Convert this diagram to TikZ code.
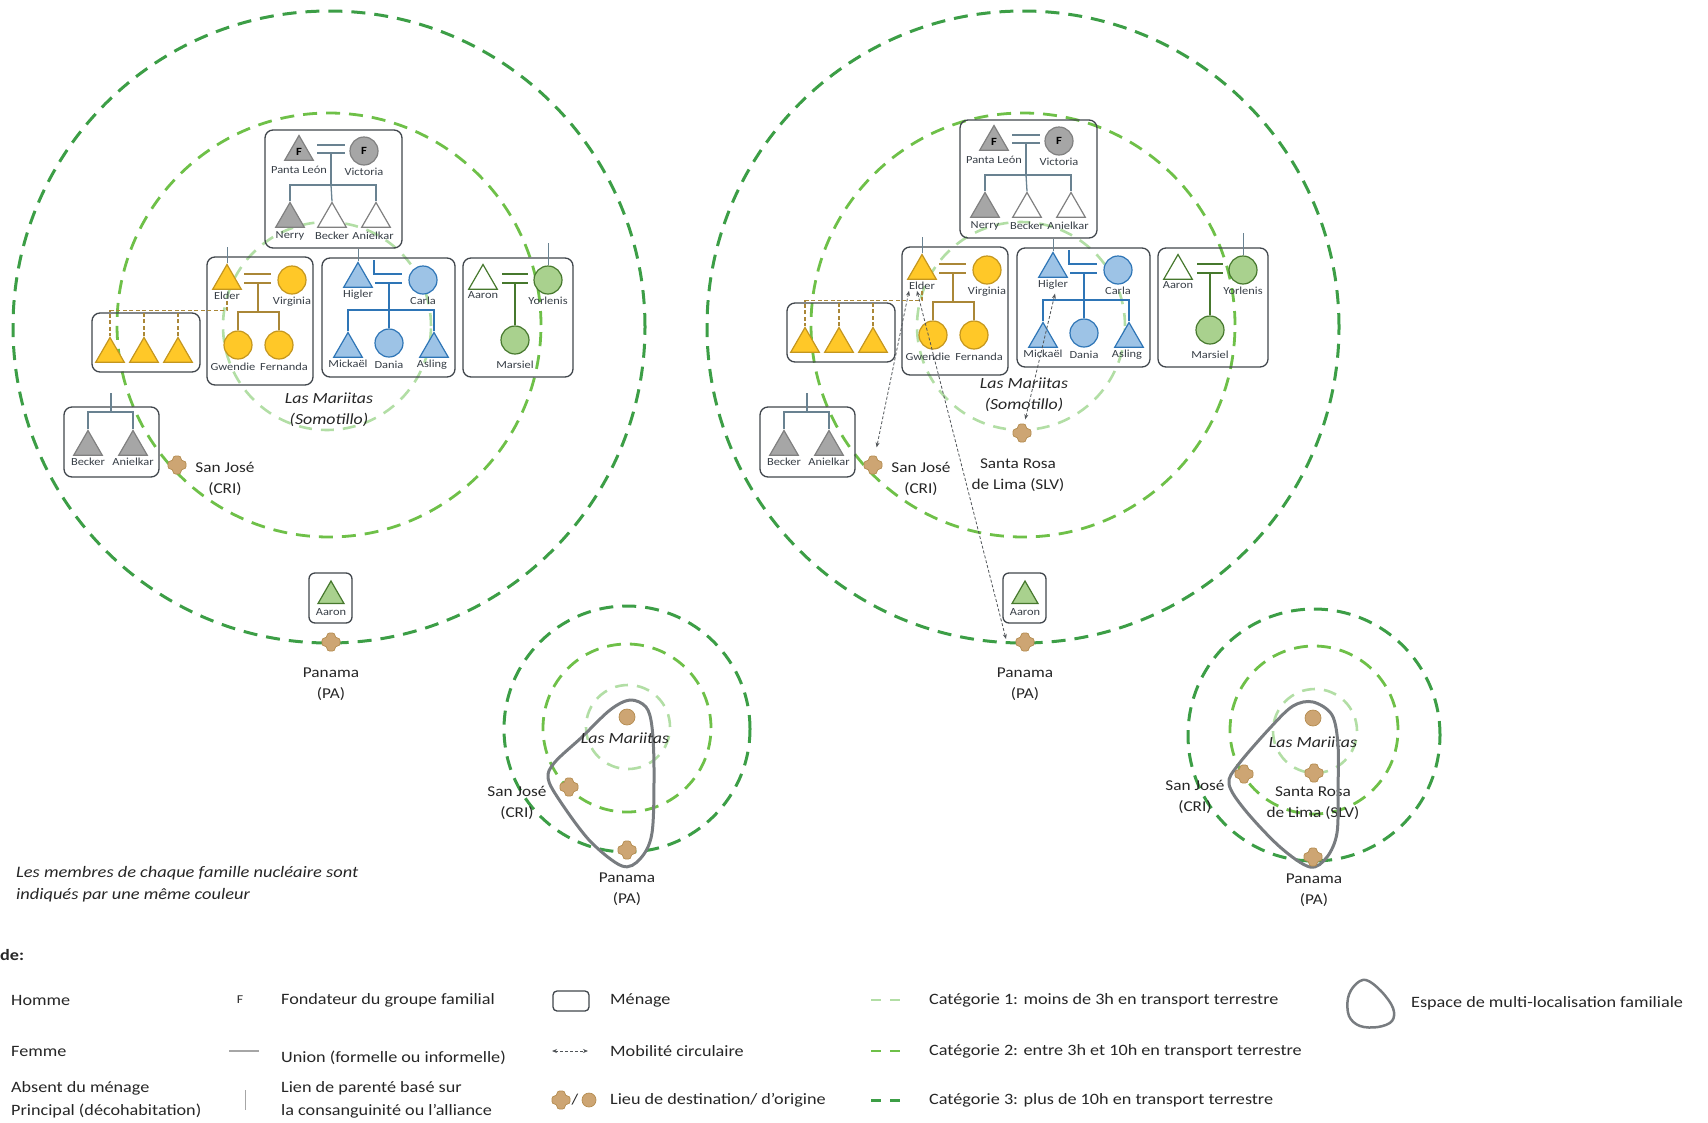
\documentclass[tikz,border=0pt]{standalone}
\usepackage{fontspec}
\setmainfont{Carlito}[FakeStretch=1.15]
\usetikzlibrary{positioning,arrows.meta,shapes.geometric,calc}
\definecolor{catun}{RGB}{178,222,165}
\definecolor{catdeux}{RGB}{110,192,72}
\definecolor{cattrois}{RGB}{60,158,70}
\definecolor{menagegris}{RGB}{64,70,76}
\definecolor{nomgris}{RGB}{55,62,70}
\definecolor{jaune}{RGB}{255,200,40}
\definecolor{jaunefonce}{RGB}{196,150,30}
\definecolor{jaunelien}{RGB}{170,135,55}
\definecolor{bleu}{RGB}{157,195,230}
\definecolor{bleufonce}{RGB}{46,117,182}
\definecolor{vert}{RGB}{169,209,142}
\definecolor{vertfonce}{RGB}{70,120,45}
\definecolor{gris}{RGB}{166,166,166}
\definecolor{grisfonce}{RGB}{128,128,128}
\definecolor{fondlien}{RGB}{105,130,145}
\definecolor{lieufond}{RGB}{205,165,115}
\definecolor{lieubord}{RGB}{180,140,80}
\definecolor{espacegris}{RGB}{120,124,128}
\definecolor{mobgris}{RGB}{80,84,88}
\definecolor{texte}{RGB}{38,38,38}

\begin{document}
\begin{tikzpicture}[x=1pt,y=1pt,
    homme/.style={regular polygon,regular polygon sides=3,minimum size=33pt,
      inner sep=0pt,line width=1.2pt,yshift=-4pt,
      font=\fontsize{11}{11}\selectfont\bfseries},
    femme/.style={circle,minimum size=28pt,inner sep=0pt,line width=1.2pt,
      font=\fontsize{11}{11}\selectfont\bfseries},
    menage/.style={draw=menagegris,rounded corners=8pt,line width=1.3pt,inner sep=0pt},
    nom/.style={font=\fontsize{10.8}{12}\selectfont,text=nomgris,inner sep=1pt},
    lien/.style={line width=1.3pt},
    parente/.style={line width=1pt,draw=fondlien},
    absent/.style={lien,draw=jaunelien,dash pattern=on 4pt off 2.5pt},
    cat1/.style={draw=catun,line width=2.6pt,dash pattern=on 13pt off 9pt},
    cat2/.style={draw=catdeux,line width=2.8pt,dash pattern=on 14pt off 9pt},
    cat3/.style={draw=cattrois,line width=3pt,dash pattern=on 14pt off 9pt},
    mobilite/.style={draw=mobgris,line width=0.8pt,dash pattern=on 3pt off 2pt,
      {Stealth[length=5pt,width=4pt]}-{Stealth[length=5pt,width=4pt]}},
    espace/.style={draw=espacegris,line width=3pt},
    origine/.style={circle,fill=lieufond,draw=lieubord,line width=0.7pt,
      minimum size=16pt,inner sep=0pt},
    lieutexte/.style={font=\fontsize{15}{21}\selectfont,text=texte,align=center},
    ital/.style={font=\fontsize{15.5}{21}\selectfont\itshape,text=texte,align=center},
    legende/.style={font=\fontsize{15.8}{23}\selectfont,text=texte,anchor=west,
      align=left,inner sep=0pt},
    lieu/.pic={\filldraw[fill=lieufond,draw=lieubord,line width=0.7pt,rounded corners=2.5pt]
      (-4,-9) -- (4,-9) -- (4,-4) -- (9,-4) -- (9,4) -- (4,4) -- (4,9)
      -- (-4,9) -- (-4,4) -- (-9,4) -- (-9,-4) -- (-4,-4) -- cycle;}]

\useasboundingbox (0,0) rectangle (1708,-1122);

% les deux groupes familiaux
\foreach \p/\dx/\dy/\bx/\by/\px/\my in {L/0/0/0/0/0/0,R/695/10/696/0/694/5}{
  % zones de distance
  \draw[cat3] (329+\px,-327) circle[radius=316];
  \draw[cat2] (329+\px,-325) circle[radius=212];
  \draw[cat1] (327+\px,-326) circle[radius=104];

  \begin{scope}[shift={(\dx,\dy)}]
    % fondateurs
    \node[menage,minimum width=137pt,minimum height=118pt] (\p-fondateurs) at (333.5,-189) {};
    \node[homme,fill=gris,draw=grisfonce] (\p-pantaleon) at (299,-148) {F};
    \node[femme,fill=gris,draw=grisfonce] (\p-victoria) at (364,-151) {F};
    \node[nom,below=4pt of \p-pantaleon] (\p-pantaleonlbl) {Panta León};
    \node[nom,below=1pt of \p-victoria] (\p-victorialbl) {Victoria};
    \node[homme,fill=gris,draw=grisfonce] (\p-nerry) at (290,-215) {};
    \node[homme,fill=white,draw=grisfonce] (\p-becker) at (332,-215) {};
    \node[homme,fill=white,draw=grisfonce] (\p-anielkar) at (376,-215) {};
    \node[nom,below=3pt of \p-nerry] (\p-nerrylbl) {Nerry};
    \node[nom,below=3pt of \p-becker] (\p-beckerlbl) {Becker};
    \node[nom,below=3pt of \p-anielkar,xshift=-3pt] (\p-anielkarlbl) {Anielkar};
    \coordinate (\p-u0) at (331,-149);
    \draw[lien,draw=fondlien] ([shift={(-14,4)}]\p-u0) -- ++(28,0)
      ([shift={(-14,-4)}]\p-u0) -- ++(28,0);
    \draw[lien,draw=fondlien] ([yshift=-4pt]\p-u0) -- ++(0,-32) coordinate (\p-f0);
    \draw[lien,draw=fondlien] (\p-nerry.north) |- (\p-f0) -| (\p-anielkar.north);
    \draw[lien,draw=fondlien] (\p-f0) -- (\p-becker.north);

    % menage Elder
    \node[menage,minimum width=106pt,minimum height=128pt] (\p-menelder) at (260,-321) {};
    \node[homme,fill=jaune,draw=jaunefonce] (\p-elder) at (227,-277) {};
    \node[femme,fill=jaune,draw=jaunefonce] (\p-virginia) at (292,-280) {};
    \node[nom,below=1pt of \p-elder] (\p-elderlbl) {Elder};
    \node[nom,below=1pt of \p-virginia] (\p-virginialbl) {Virginia};
    \node[femme,fill=jaune,draw=jaunefonce] (\p-gwendie) at (238,-345) {};
    \node[femme,fill=jaune,draw=jaunefonce] (\p-fernanda) at (279,-345) {};
    \node[nom,below=2pt of \p-gwendie,xshift=-5pt] (\p-gwendielbl) {Gwendie};
    \node[nom,below=2pt of \p-fernanda,xshift=5pt] (\p-fernandalbl) {Fernanda};
    \coordinate (\p-u1) at (258,-279);
    \draw[lien,draw=jaunelien] ([shift={(-14,5)}]\p-u1) -- ++(27,0)
      ([shift={(-14,-4)}]\p-u1) -- ++(27,0);
    \draw[lien,draw=jaunelien] ([yshift=-4pt]\p-u1) -- ++(0,-29) coordinate (\p-f1);
    \draw[lien,draw=jaunelien] (\p-gwendie.north) |- (\p-f1) -| (\p-fernanda.north);
    \draw[parente] (\p-elder.north) -- ++(0,16);

    % enfants absents
    \node[menage,minimum width=108pt,minimum height=59pt] (\p-menjaune) at (146,-342.5) {};
    \node[homme,fill=jaune,draw=jaunefonce] (\p-jaune1) at (110,-350) {};
    \node[homme,fill=jaune,draw=jaunefonce] (\p-jaune2) at (144,-350) {};
    \node[homme,fill=jaune,draw=jaunefonce] (\p-jaune3) at (178,-350) {};
    \draw[absent] (\p-elderlbl.south) -- ++(0,-10) coordinate (\p-d0) -| (\p-jaune1.north);
    \draw[absent] (\p-jaune2.north) -- (\p-jaune2.north |- \p-d0);
    \draw[absent] (\p-jaune3.north) -- (\p-jaune3.north |- \p-d0);

    % menage Higler
    \node[menage,minimum width=133pt,minimum height=119pt] (\p-menhigler) at (388.5,-317.5) {};
    \node[homme,fill=bleu,draw=bleufonce] (\p-higler) at (358,-275) {};
    \node[femme,fill=bleu,draw=bleufonce] (\p-carla) at (423,-280) {};
    \node[nom,below=1pt of \p-higler] (\p-higlerlbl) {Higler};
    \node[nom,below=1pt of \p-carla] (\p-carlalbl) {Carla};
    \node[homme,fill=bleu,draw=bleufonce] (\p-mickael) at (348,-345) {};
    \node[femme,fill=bleu,draw=bleufonce] (\p-dania) at (389,-343) {};
    \node[homme,fill=bleu,draw=bleufonce] (\p-asling) at (434,-345) {};
    \node[nom,below=1pt of \p-mickael] (\p-mickaellbl) {Mickaël};
    \node[nom,below=2pt of \p-dania] (\p-danialbl) {Dania};
    \node[nom,below=1pt of \p-asling,xshift=-2pt] (\p-aslinglbl) {Asling};
    \coordinate (\p-u2) at (389,-279);
    \draw[lien,draw=bleufonce] ([shift={(-15,19)}]\p-u2) -- ++(0,-14) -- ++(28,0)
      ([shift={(-14,-4)}]\p-u2) -- ++(27,0);
    \draw[lien,draw=bleufonce] ([yshift=-4pt]\p-u2) -- ++(0,-27) coordinate (\p-f2);
    \draw[lien,draw=bleufonce] (\p-mickael.north) |- (\p-f2) -| (\p-asling.north);
    \draw[lien,draw=bleufonce] (\p-f2) -- (\p-dania.north);
    \draw[parente] (\p-higler.north) -- (\p-higler.north |- \p-fondateurs.south);

    % menage Aaron
    \node[menage,minimum width=110pt,minimum height=119pt] (\p-menaaron) at (518,-317.5) {};
    \node[homme,fill=white,draw=vertfonce] (\p-aaron) at (483,-277) {};
    \node[femme,fill=vert,draw=vertfonce] (\p-yorlenis) at (548,-280) {};
    \node[femme,fill=vert,draw=vertfonce] (\p-marsiel) at (515,-340) {};
    \node[nom,below=1pt of \p-aaron] (\p-aaronlbl) {Aaron};
    \node[nom,below=1pt of \p-yorlenis] (\p-yorlenislbl) {Yorlenis};
    \node[nom,below=5pt of \p-marsiel] (\p-marsiellbl) {Marsiel};
    \coordinate (\p-u3) at (515,-279);
    \draw[lien,draw=vertfonce] ([shift={(-13,5)}]\p-u3) -- ++(26,0)
      ([shift={(-13,-4)}]\p-u3) -- ++(26,0);
    \draw[lien,draw=vertfonce] ([yshift=-4pt]\p-u3) -- (\p-marsiel.north);
    \draw[parente] (\p-yorlenis.north) -- ++(0,22);

    \node[ital] (\p-mariitas) at (329,-410+\my) {Las Mariitas\\(Somotillo)};
  \end{scope}

  % Becker et Anielkar, San José
  \begin{scope}[shift={(\bx,\by)}]
    \node[menage,minimum width=95pt,minimum height=70pt] (\p-menba) at (111.5,-442) {};
    \node[homme,fill=gris,draw=grisfonce] (\p-ba1) at (88,-443) {};
    \node[homme,fill=gris,draw=grisfonce] (\p-ba2) at (133,-443) {};
    \node[nom,below=1pt of \p-ba1] (\p-ba1lbl) {Becker};
    \node[nom,below=1pt of \p-ba2] (\p-ba2lbl) {Anielkar};
    \coordinate (\p-fba) at (111,-412);
    \draw[lien,draw=fondlien] (\p-fba) -- ++(0,19);
    \draw[lien,draw=fondlien] (\p-ba1.north) |- (\p-fba) -| (\p-ba2.north);
    \coordinate (\p-sanjose) at (177,-465);
    \pic at (\p-sanjose) {lieu};
    \node[lieutexte] (\p-sanjoselbl) at (225,-479) {San José\\(CRI)};
  \end{scope}

  % Aaron a Panama
  \begin{scope}[shift={(\px,0)}]
    \node[menage,minimum width=43pt,minimum height=50pt,rounded corners=6pt] (\p-menpa) at (330.5,-598) {};
    \node[homme,fill=vert,draw=vertfonce,minimum size=30pt] (\p-aaronpa) at (331,-592) {};
    \node[nom,below=3pt of \p-aaronpa] (\p-aaronpalbl) {Aaron};
    \coordinate (\p-panama) at (331,-642);
    \pic at (\p-panama) {lieu};
    \node[lieutexte] (\p-panamalbl) at (331,-684) {Panama\\(PA)};
  \end{scope}
}

% Santa Rosa et mobilites
\coordinate (R-santarosa) at (1022,-433);
\pic at (R-santarosa) {lieu};
\node[lieutexte] (R-santarosalbl) at (1018,-475) {Santa Rosa\\de Lima (SLV)};
\draw[mobilite,shorten >=18pt] ([xshift=-13pt]R-elderlbl.south) -- (R-sanjose);
\draw[mobilite] ([xshift=-5pt]R-elderlbl.south) -- ([xshift=-19pt,yshift=3pt]R-panama);
\draw[mobilite,shorten >=14pt] ([xshift=2pt,yshift=-3pt]R-higlerlbl.south) -- (R-santarosa);

% espace de multi-localisation, gauche
\draw[cat3] (627,-729) circle[radius=123];
\draw[cat2] (627,-728) circle[radius=84];
\draw[cat1] (628,-727) circle[radius=42];
\draw[espace] plot[smooth cycle,tension=0.55] coordinates {(630,-700) (646,-707) (652,-727)
  (654,-770) (652,-833) (640,-859) (622,-866) (590,-841) (560,-801) (548,-778)
  (555,-762) (582,-737) (610,-710)};
\node[origine] (M1-origine) at (627,-717) {};
\node[ital] (M1-mariitas) at (625,-738) {Las Mariitas};
\coordinate (M1-sanjose) at (569,-787);
\pic at (M1-sanjose) {lieu};
\node[lieutexte] (M1-sanjoselbl) at (517,-803) {San José\\(CRI)};
\coordinate (M1-panama) at (627,-850);
\pic at (M1-panama) {lieu};
\node[lieutexte] (M1-panamalbl) at (627,-889) {Panama\\(PA)};

% espace de multi-localisation, droite
\draw[cat3] (1314,-735) circle[radius=126];
\draw[cat2] (1314,-730) circle[radius=84];
\draw[cat1] (1315,-731) circle[radius=42];
\node[ital] (M2-mariitas) at (1313,-742) {Las Mariitas};
\node[lieutexte] (M2-santarosalbl) at (1313,-803) {Santa Rosa\\de Lima (SLV)};
\draw[espace] plot[smooth cycle,tension=0.55] coordinates {(1313,-702) (1332,-715) (1338,-745)
  (1338,-790) (1337,-833) (1327,-857) (1310,-867) (1280,-847) (1245,-810)
  (1229,-784) (1238,-765) (1270,-728) (1293,-706)};
\node[origine] (M2-origine) at (1313,-718) {};
\coordinate (M2-sanjose) at (1244,-774);
\pic at (M2-sanjose) {lieu};
\node[lieutexte] (M2-sanjoselbl) at (1195,-797) {San José\\(CRI)};
\coordinate (M2-santarosa) at (1314,-773);
\pic at (M2-santarosa) {lieu};
\coordinate (M2-panama) at (1313,-857);
\pic at (M2-panama) {lieu};
\node[lieutexte] (M2-panamalbl) at (1314,-890) {Panama\\(PA)};

\node[legende,font=\fontsize{16}{22}\selectfont\itshape] (note) at (16,-884)
  {Les membres de chaque famille nucléaire sont\\indiqués par une même couleur};

% legende
\node[legende,font=\fontsize{15.8}{18}\selectfont\bfseries] (leg-titre) at (0,-955) {de:};
\node[legende] (leg-homme) at (11,-1000) {Homme};
\node[legende] (leg-femme) at (11,-1051) {Femme};
\node[legende] (leg-absent) at (11,-1099.5) {Absent du ménage\\Principal (décohabitation)};
\node[font=\fontsize{12}{12}\selectfont,text=texte] (leg-f) at (240,-1000) {F};
\node[legende] (leg-fondateur) at (281,-1000) {Fondateur du groupe familial};
\coordinate (leg-u1) at (229,-1051);
\coordinate (leg-u2) at (259,-1051);
\draw[line width=1.5pt,draw=gris] (leg-u1) -- (leg-u2);
\node[legende] (leg-union) at (281,-1058) {Union (formelle ou informelle)};
\coordinate (leg-p1) at (245,-1090);
\coordinate (leg-p2) at (245,-1110);
\draw[line width=1pt,draw=gris] (leg-p1) -- (leg-p2);
\node[legende] (leg-lien) at (281,-1099.5) {Lien de parenté basé sur\\la consanguinité ou l’alliance};
\node[menage,minimum width=36pt,minimum height=20pt,rounded corners=4pt] (leg-menage) at (571,-1001) {};
\node[legende] (leg-menagetxt) at (610,-1000) {Ménage};
\coordinate (leg-m1) at (552,-1051);
\coordinate (leg-m2) at (588,-1051);
\draw[mobilite] (leg-m1) -- (leg-m2);
\node[legende] (leg-mobilite) at (610,-1051) {Mobilité circulaire};
\coordinate (leg-lieu) at (561,-1100);
\pic at (leg-lieu) {lieu};
\node[font=\fontsize{15}{15}\selectfont,text=texte] (leg-slash) at (575,-1100) {/};
\node[origine,minimum size=14pt] (leg-origine) at (589,-1100) {};
\node[legende] (leg-lieutxt) at (610,-1100) {Lieu de destination/ d’origine};
\foreach \c/\yy/\t in {cat1/1000/{Catégorie 1: moins de 3h en transport terrestre},
    cat2/1051/{Catégorie 2: entre 3h et 10h en transport terrestre},
    cat3/1100/{Catégorie 3: plus de 10h en transport terrestre}}{
  \coordinate (leg-\c-a) at (871,-\yy);
  \coordinate (leg-\c-b) at (906,-\yy);
  \draw[\c,dash pattern=on 10pt off 9pt] (leg-\c-a) -- (leg-\c-b);
  \node[legende] (leg-\c-txt) at (929,-\yy) {\t};
}
\draw[espace,line width=2.5pt] plot[smooth cycle,tension=0.6] coordinates {(1366,-980)
  (1381,-991) (1393,-1008) (1392,-1021) (1378,-1027) (1360,-1026) (1349,-1016)
  (1348,-998) (1355,-985)};
\node[legende] (leg-espace) at (1411,-1003) {Espace de multi-localisation familiale};

\end{tikzpicture}
\end{document}
